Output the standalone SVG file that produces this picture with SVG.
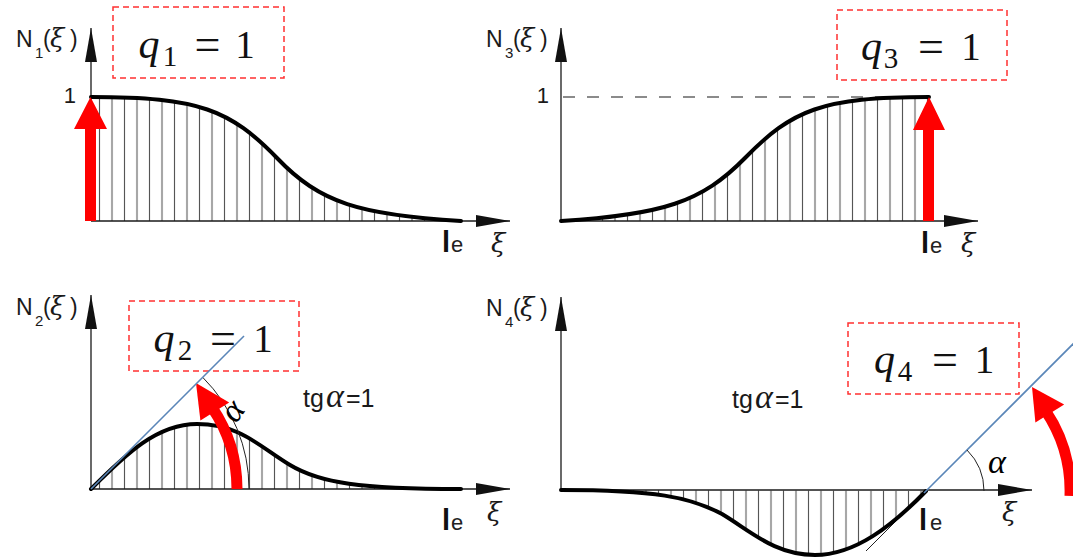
<svg xmlns="http://www.w3.org/2000/svg" width="1073" height="557" viewBox="0 0 1073 557">
<style>
.ax{stroke:#1a1a1a;stroke-width:1.3;fill:none;marker-end:url(#ax)}
.curve{stroke:#000;stroke-width:4;fill:none;stroke-linecap:round;stroke-linejoin:round}
.box{fill:none;stroke:#ff3030;stroke-width:1.5;stroke-dasharray:6 4}
.red{fill:#ff0000}
.redarc{fill:none;stroke:#ff0000;stroke-width:11}
.tan{stroke:#5a86b8;stroke-width:1.6;fill:none}
.thin{stroke:#222;stroke-width:1;fill:none}
.dash{stroke:#666;stroke-width:1.5;stroke-dasharray:12 12;fill:none}
.lab{font-family:"Liberation Sans",Arial,sans-serif;fill:#1a1a1a;font-size:23px}
.sub{font-size:15px}
.xi{font-family:"DejaVu Serif","Liberation Serif",serif;font-style:italic;font-size:26px;fill:#1a1a1a}
.le{font-family:"Liberation Sans",Arial,sans-serif;font-weight:bold;font-size:29px;fill:#111}
.e{font-family:"Liberation Sans",Arial,sans-serif;font-size:22px;fill:#222}
.one{font-family:"Liberation Sans",Arial,sans-serif;font-size:22px;fill:#1a1a1a;text-anchor:end}
.q{font-family:"Liberation Serif","Times New Roman",serif;font-size:39px;fill:#111;text-anchor:middle}
.qi{font-style:italic;font-size:42px}
.qs{font-size:29px}
.eq{font-size:46px}
.tg{font-family:"Liberation Sans",Arial,sans-serif;font-size:25px;fill:#1a1a1a}
.al{font-family:"Liberation Serif","Times New Roman",serif;font-style:italic;font-size:34px}
</style>
<defs>
<marker id="ax" viewBox="0 0 34 12" refX="34" refY="6" markerWidth="34" markerHeight="12" markerUnits="userSpaceOnUse" orient="auto">
<path d="M0,0L34,6L0,12z" fill="#111"/>
</marker>
<pattern id="hA" x="93.25" y="0" width="12.5" height="40" patternUnits="userSpaceOnUse"><path d="M6.25,-1V41" stroke="#555" stroke-width="1.1"/></pattern>
<pattern id="hB" x="908.75" y="0" width="12.5" height="40" patternUnits="userSpaceOnUse"><path d="M6.25,-1V41" stroke="#555" stroke-width="1.1"/></pattern>
<pattern id="hC" x="914.75" y="0" width="12.5" height="40" patternUnits="userSpaceOnUse"><path d="M6.25,-1V41" stroke="#555" stroke-width="1.1"/></pattern>
</defs>

<g id="panel-n1">
<path d="M91,97 C200,97 230,110 277,158 C320,203 360,215 461,221 L91,221 Z" fill="url(#hA)"/>
<line class="ax" x1="91" y1="221" x2="91" y2="28"/>
<line class="ax" x1="91" y1="221" x2="510" y2="221"/>
<path class="curve" d="M91,97 C200,97 230,110 277,158 C320,203 360,215 461,221"/>
<path class="red" d="M85,221V129H74L90.5,97L107,129H96V221Z"/>
<rect class="box" x="113" y="7" width="171" height="71"/>
<text class="q"><tspan class="qi" x="149" y="58">q</tspan><tspan class="qs" x="170" y="66">1</tspan><tspan class="eq" x="207.5" y="60">=</tspan><tspan x="245" y="58">1</tspan></text>
<text class="lab"><tspan x="16" y="47">N</tspan><tspan class="sub" x="35" y="58">1</tspan><tspan x="43" y="47">(</tspan><tspan class="xi" x="50" y="47">ξ</tspan><tspan x="70" y="47">)</tspan></text>
<text class="one" x="76" y="103">1</text>
<text><tspan class="le" x="442" y="252">l</tspan><tspan class="e" x="451" y="252">e</tspan></text>
<text class="xi" x="491" y="252">ξ</text>
</g>

<g id="panel-n3">
<path d="M561,221 C662,215 702,202 745,158 C792,110 822,97 929,97 L929,221 Z" fill="url(#hB)"/>
<line class="dash" x1="563" y1="97" x2="925" y2="97"/>
<line class="ax" x1="561" y1="221" x2="561" y2="28"/>
<line class="ax" x1="561" y1="221" x2="978" y2="221"/>
<path class="curve" d="M561,221 C662,215 702,202 745,158 C792,110 822,97 929,97"/>
<path class="red" d="M923,221V130H913L929,97L945,130H934V221Z"/>
<rect class="box" x="837" y="10" width="170" height="70"/>
<text class="q"><tspan class="qi" x="871.5" y="60">q</tspan><tspan class="qs" x="891" y="68">3</tspan><tspan class="eq" x="931" y="62">=</tspan><tspan x="971" y="60">1</tspan></text>
<text class="lab"><tspan x="486" y="47">N</tspan><tspan class="sub" x="505" y="58">3</tspan><tspan x="513" y="47">(</tspan><tspan class="xi" x="520" y="47">ξ</tspan><tspan x="540" y="47">)</tspan></text>
<text class="one" x="549" y="103">1</text>
<text><tspan class="le" x="921" y="253">l</tspan><tspan class="e" x="930" y="253">e</tspan></text>
<text class="xi" x="961" y="252">ξ</text>
</g>

<g id="panel-n2">
<path d="M91,489 C126,454 157,424 197,424 C240,424 260,447 290,465 C320,483 360,489 461,489 Z" fill="url(#hA)"/>
<line class="ax" x1="91" y1="489" x2="91" y2="295"/>
<line class="ax" x1="91" y1="489" x2="510" y2="489"/>
<path class="curve" d="M91,489 C126,454 157,424 197,424 C240,424 260,447 290,465 C320,483 360,489 461,489"/>
<path class="thin" d="M249,489 A158,158 0 0 0 202.7,377.3"/>
<path class="redarc" d="M237,489 A146,146 0 0 0 212,407.4"/>
<path class="red" d="M229.2,402.6L196,383L200.4,420.6Z"/>
<rect class="box" x="129" y="301" width="170" height="70"/>
<text class="q"><tspan class="qi" x="164" y="352">q</tspan><tspan class="qs" x="185" y="360">2</tspan><tspan class="eq" x="223" y="354">=</tspan><tspan x="263" y="352">1</tspan></text>
<line class="tan" x1="91" y1="489" x2="244" y2="336"/>
<text class="lab"><tspan x="16" y="315">N</tspan><tspan class="sub" x="35" y="326">2</tspan><tspan x="43" y="315">(</tspan><tspan class="xi" x="50" y="315">ξ</tspan><tspan x="70" y="315">)</tspan></text>
<text class="al" transform="translate(241,417) rotate(-55)" text-anchor="middle" font-size="22">α</text>
<text class="tg"><tspan x="303" y="407">tg</tspan><tspan class="al" x="326" y="407">α</tspan><tspan x="346" y="407">=1</tspan></text>
<text><tspan class="le" x="442" y="530">l</tspan><tspan class="e" x="451" y="530">e</tspan></text>
<text class="xi" x="487" y="521">ξ</text>
</g>

<g id="panel-n4">
<path d="M561,490 C655,490 690,497 722,514 C752,532 775,555 815,555 C855,555 892,526 926,491 Z" fill="url(#hC)"/>
<line class="ax" x1="561" y1="490" x2="561" y2="297"/>
<line class="ax" x1="561" y1="490" x2="1032" y2="490"/>
<line class="thin" x1="866" y1="551" x2="926" y2="491" stroke="#555"/>
<path class="curve" d="M561,490 C655,490 690,497 722,514 C752,532 775,555 815,555 C855,555 892,526 926,491"/>
<line class="tan" x1="924" y1="493" x2="1075" y2="342"/>
<path class="thin" d="M984,491 A58,58 0 0 0 967,450"/>
<path class="redarc" d="M1070,496 A144,144 0 0 0 1045.4,410.5"/>
<path class="red" d="M1064.2,404.6L1032,387L1035.4,422.6Z"/>
<rect class="box" x="848" y="323" width="171" height="71"/>
<text class="q"><tspan class="qi" x="884.5" y="373">q</tspan><tspan class="qs" x="905" y="381">4</tspan><tspan class="eq" x="945" y="375">=</tspan><tspan x="984.5" y="373">1</tspan></text>
<text class="lab"><tspan x="486" y="316">N</tspan><tspan class="sub" x="505" y="327">4</tspan><tspan x="513" y="316">(</tspan><tspan class="xi" x="520" y="316">ξ</tspan><tspan x="540" y="316">)</tspan></text>
<text class="tg"><tspan x="732" y="408">tg</tspan><tspan class="al" x="755" y="408">α</tspan><tspan x="775" y="408">=1</tspan></text>
<text class="al" x="988" y="473" font-size="22">α</text>
<text><tspan class="le" x="919" y="530">l</tspan><tspan class="e" x="930" y="530">e</tspan></text>
<text class="xi" x="1002" y="521">ξ</text>
</g>
</svg>
